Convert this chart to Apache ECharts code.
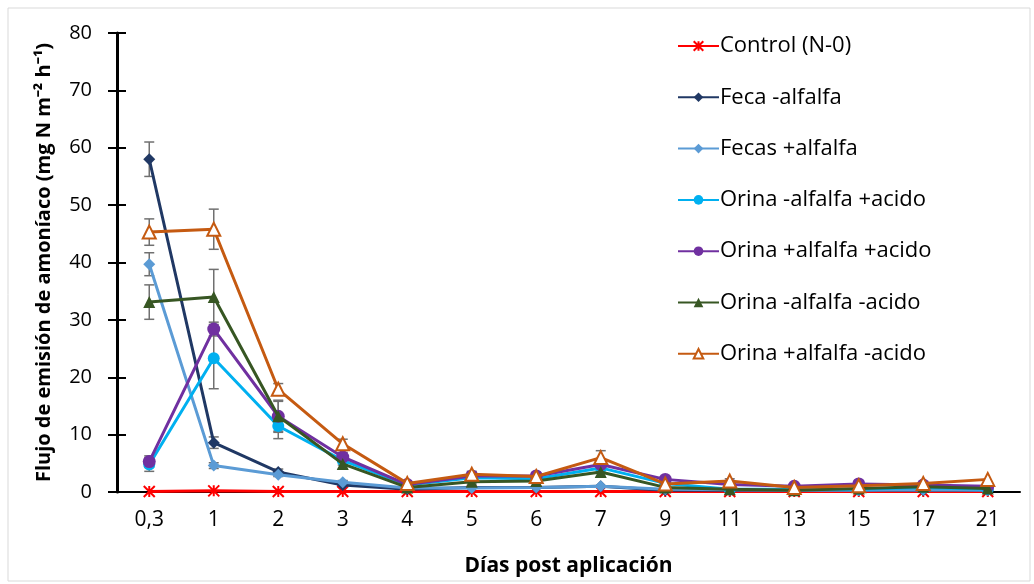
<!DOCTYPE html>
<html><head><meta charset="utf-8">
<script src="https://cdn.jsdelivr.net/npm/echarts@6/dist/echarts.min.js"></script>
<style>html,body{margin:0;padding:0;background:#fff}#c{width:1034px;height:584px}</style>
</head><body><div id="c"></div>
<script>
const categories = ['0,3','1','2','3','4','5','6','7','9','11','13','15','17','21'];
const yTicks = [0,10,20,30,40,50,60,70,80];
const control   = [0.1,0.2,0.1,0.1,0.1,0.1,0.1,0.1,0.1,0.1,0.1,0.1,0.1,0.1];
const fecaMinus = [58.0,8.6,3.5,1.2,0.5,0.8,0.8,1.0,0.3,0.3,0.3,0.3,0.3,0.3];
const fecasPlus = [39.7,4.6,3.0,1.7,0.7,0.7,0.8,1.0,0.5,0.4,0.3,0.3,0.4,0.3];
const orMinusAcPlus = [4.8,23.3,11.5,5.5,1.2,2.5,2.3,4.2,1.5,0.5,0.5,0.5,0.8,0.5];
const orPlusAcPlus  = [5.3,28.4,13.2,6.1,1.3,2.8,2.8,4.8,2.2,1.3,1.0,1.4,1.2,1.0];
const orMinusAcMinus= [33.1,34.0,13.2,4.9,0.8,1.8,1.9,3.5,0.8,0.5,0.3,0.6,0.9,0.6];
const orPlusAcMinus = [45.3,45.8,17.9,8.4,1.5,3.1,2.7,6.0,1.4,1.9,0.8,1.1,1.5,2.2];
// error bar half-widths
const errFecaMinus = [3.0,1.0,0.5,0.3,0,0,0,0,0,0,0,0,0,0];
const errFecasPlus = [2.0,0.5,0.3,0.3,0,0,0,0,0,0,0,0,0,0];
const errOrMinusAcPlus = [1.2,5.3,2.2,0.8,0.3,0.5,0.4,0.8,0,0,0,0,0,0];
const errOrPlusAcPlus  = [1.0,1.2,2.6,0.8,0.3,0.5,0.5,0.8,0.3,0,0,0,0,0];
const errOrMinusAcMinus= [3.0,4.8,2.8,0.8,0.3,0.4,0.4,0.8,0.2,0,0,0,0,0];
const errOrPlusAcMinus = [2.3,3.5,1.0,0.8,0.3,0.5,0.4,1.2,0.3,0.4,0,0,0,0];

const names = ['Control (N-0)','Feca -alfalfa','Fecas +alfalfa','Orina -alfalfa +acido','Orina +alfalfa +acido','Orina -alfalfa -acido','Orina +alfalfa -acido'];
const colors = ['#FF0000','#203864','#5B9BD5','#00B0F0','#7030A0','#375623','#C55A11'];
const datas = [control,fecaMinus,fecasPlus,orMinusAcPlus,orPlusAcPlus,orMinusAcMinus,orPlusAcMinus];
const errs = [null,errFecaMinus,errFecasPlus,errOrMinusAcPlus,errOrPlusAcPlus,errOrMinusAcMinus,errOrPlusAcMinus];
const symbols = ['path://M0,0L10,10M10,0L0,10M5,0L5,10','diamond','diamond','circle','circle','triangle','emptyTriangle'];
const sizes = [11,12,12,12,13,12,13];

const FONT = 'Open Sans';
const series = [];
errs.forEach((e,i)=>{
  if(!e) return;
  const d = datas[i].map((v,k)=>[k, v-e[k], v+e[k]]).filter((x,k)=>e[k]>0);
  series.push({
    type:'custom', silent:true, z:1, data:d,
    renderItem:(params, api)=>{
      const x = api.value(0);
      const lo = api.coord([x, api.value(1)]);
      const hi = api.coord([x, api.value(2)]);
      const w = 5;
      const st = {stroke:'#707070', lineWidth:1.5};
      return {type:'group', children:[
        {type:'line', shape:{x1:lo[0],y1:lo[1],x2:hi[0],y2:hi[1]}, style:st},
        {type:'line', shape:{x1:lo[0]-w,y1:lo[1],x2:lo[0]+w,y2:lo[1]}, style:st},
        {type:'line', shape:{x1:hi[0]-w,y1:hi[1],x2:hi[0]+w,y2:hi[1]}, style:st}
      ]};
    }
  });
});
names.forEach((n,i)=>{
  const s = {
    name:n, type:'line', data:datas[i], z:2+i,
    symbol:symbols[i], symbolSize:sizes[i], showAllSymbol:true,
    lineStyle:{color:colors[i], width:3},
    itemStyle:{color:colors[i], borderColor:colors[i], borderWidth:0},
    emphasis:{disabled:true}
  };
  if(i===0){ s.itemStyle = {color:'none', borderColor:colors[i], borderWidth:2}; }
  if(i===6){ s.itemStyle = {color:colors[i], borderColor:colors[i], borderWidth:2}; }
  series.push(s);
});

const chart = echarts.init(document.getElementById('c'));
chart.setOption({
  animation:false,
  textStyle:{fontFamily:FONT},
  graphic:[{type:'rect', shape:{x:8,y:8,width:1022,height:573}, style:{fill:'none', stroke:'#D9D9D9', lineWidth:1}, silent:true}],
  legend:{
    orient:'vertical', left:672, top:30, itemWidth:41, itemHeight:12, itemGap:29.3,
    data:names, textStyle:{fontFamily:FONT, fontSize:22, color:'#000', padding:[0,0,0,-4]},
    selectedMode:false
  },
  grid:{left:117, right:14, top:33, bottom:92, outerBoundsMode:'none', containLabel:false},
  xAxis:{
    type:'category', data:categories, boundaryGap:true,
    axisLine:{lineStyle:{color:'#000', width:2}},
    axisTick:{show:false},
    axisLabel:{color:'#000', fontSize:21, fontFamily:FONT, margin:18},
    name:'Días post aplicación', nameLocation:'middle', nameGap:64,
    nameTextStyle:{fontWeight:'bold', fontSize:21, color:'#000', fontFamily:FONT}
  },
  yAxis:[{
    type:'value', min:yTicks[0], max:yTicks[yTicks.length-1], interval:10,
    splitLine:{show:false},
    axisLine:{show:true, lineStyle:{color:'#000', width:3}},
    axisTick:{show:true, length:9, lineStyle:{color:'#000', width:2}},
    axisLabel:{color:'#000', fontSize:20, fontFamily:FONT, margin:25},
    name:'Flujo de emisión de amoníaco (mg N m⁻² h⁻¹)', nameLocation:'middle', nameGap:63,
    nameTextStyle:{fontWeight:'bold', fontSize:20, color:'#000', fontFamily:FONT}
  },{
    type:'value', min:0, max:80, interval:10, position:'left',
    splitLine:{show:false}, axisLine:{show:false},
    axisTick:{show:true, inside:true, length:9, lineStyle:{color:'#000', width:2}},
    axisLabel:{show:false}
  }],
  series:series
});
</script></body></html>
